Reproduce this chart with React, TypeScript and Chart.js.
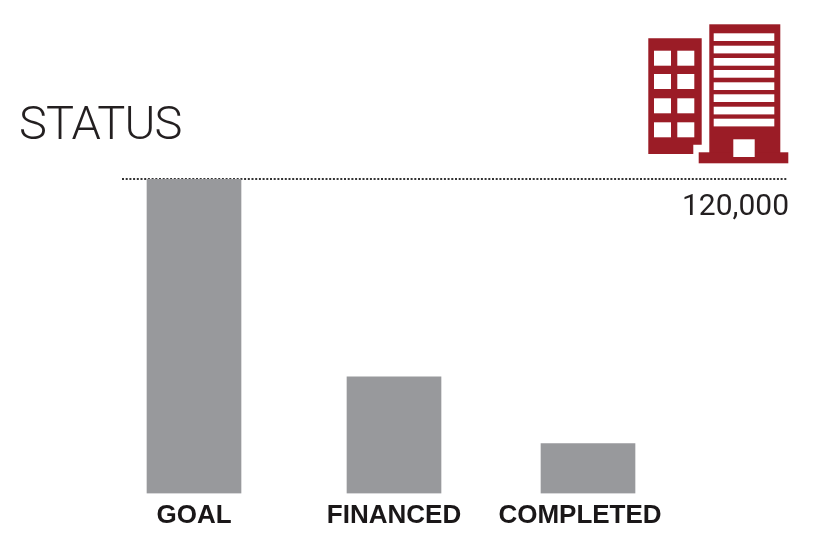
import React, { useEffect, useRef } from "react";
import { Chart, registerables } from "chart.js";

Chart.register(...registerables);

const categories = ["GOAL", "FINANCED", "COMPLETED"];
const values = [120000, 44500, 19000];
const barSlots = [0, 1, 1.97];
const labelSlots = [0, 1, 1.93];
const referenceValue = 120000;
const referenceLabel = "120,000";
const titleText = "STATUS";

const RED = "#9b1c26";
const BAR = "#98999c";
const INK = "#231f20";

const iconPlugin = {
  id: "statusDecor",
  afterDraw(chart: any) {
    const c = chart.ctx;
    const y = chart.scales.y.getPixelForValue(referenceValue);
    c.save();
    c.fillStyle = INK;
    c.textBaseline = "alphabetic";
    c.textAlign = "left";
    c.font = "300 47px Roboto";
    c.letterSpacing = "-0.8px";
    c.fillText(titleText, 19, 139);
    c.letterSpacing = "0px";
    c.textAlign = "right";
    c.font = "400 30px Roboto";
    c.fillText(referenceLabel, 789, y + 36);

    c.fillStyle = RED;
    c.beginPath();
    c.moveTo(648.3, 38.3);
    c.lineTo(701.7, 38.3);
    c.lineTo(701.7, 144.7);
    c.lineTo(693.3, 144.7);
    c.lineTo(693.3, 154);
    c.lineTo(648.3, 154);
    c.closePath();
    c.fill();
    c.fillRect(709.3, 24.3, 71, 130);
    c.fillRect(698.7, 152.3, 89.6, 11);
    c.fillStyle = "#ffffff";
    for (const wy of [50.7, 74, 98.3, 122.3]) {
      c.fillRect(654, wy, 17, 15);
      c.fillRect(677.3, wy, 17, 15);
    }
    for (const sy of [33.3, 45.7, 58, 70, 82.3, 94.3, 106.7, 118.7]) {
      c.fillRect(713.7, sy, 60.6, 7.7);
    }
    c.fillRect(733.3, 139.3, 21.4, 17.7);
    c.restore();
  },
};

export default function App() {
  const ref = useRef<HTMLCanvasElement>(null);
  useEffect(() => {
    const chart = new Chart(ref.current!, {
      type: "bar",
      data: {
        datasets: [
          {
            data: barSlots.map((x, i) => ({ x, y: values[i] })),
            backgroundColor: BAR,
            borderWidth: 0,
            barThickness: 94,
          },
        ],
      },
      options: {
        animation: false,
        responsive: false,
        devicePixelRatio: 1,
        layout: { padding: { left: 122, right: 27, top: 179, bottom: 0 } },
        plugins: { legend: { display: false }, tooltip: { enabled: false }, title: { display: false } },
        scales: {
          x: {
            type: "linear",
            min: -0.36,
            max: 2.97,
            offset: false,
            border: { display: false },
            grid: { display: false },
            afterBuildTicks: (axis: any) => {
              axis.ticks = labelSlots.map((value) => ({ value }));
            },
            afterFit: (axis: any) => {
              axis.height = 59.5;
            },
            ticks: {
              autoSkip: false,
              maxRotation: 0,
              minRotation: 0,
              padding: -1,
              color: "#1a1718",
              font: { family: "Liberation Sans", weight: "bold", size: 26 },
              callback: (_v: any, i: number) => categories[i],
            },
          },
          y: {
            min: 0,
            max: referenceValue,
            border: { display: false, dash: [2, 1.7] },
            afterBuildTicks: (axis: any) => {
              axis.ticks = [{ value: referenceValue }];
            },
            afterFit: (axis: any) => {
              axis.width = 0;
            },
            grid: {
              drawTicks: false,
              color: "#333333",
              lineWidth: 2,
            },
            ticks: { display: false },
          },
        },
      } as any,
      plugins: [iconPlugin],
    });
    return () => chart.destroy();
  }, []);
  return (
    <div style={{ position: "absolute", left: 0, top: 0, width: 815, height: 553, background: "#fff" }}>
      <canvas ref={ref} width={815} height={553} style={{ display: "block" }} />
    </div>
  );
}
